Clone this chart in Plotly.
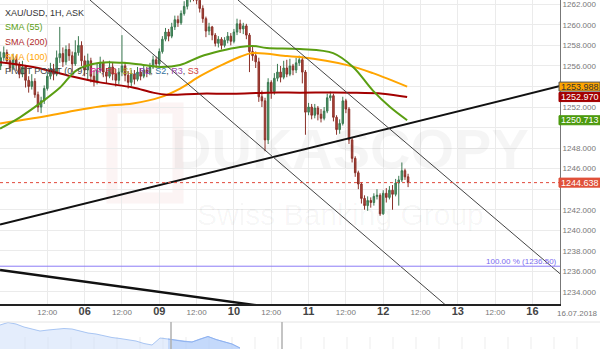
import plotly.graph_objects as go

W, H = 600, 349
FONT = "Liberation Sans, Arial, sans-serif"

# ---------------- data ----------------
hours = list(range(-3, 129))
first_open = 1256.0
close = [
    1256.8, 1257.3, 1256.5, 1255.8, 1256.6, 1256.1, 1255.2, 1255.9, 1254.6, 1254.0, 1254.5, 1253.2,
    1252.0, 1252.6, 1253.8, 1255.0, 1255.7, 1255.2, 1256.8, 1257.2, 1256.4, 1257.6, 1257.0, 1256.2,
    1257.3, 1258.0, 1256.5, 1255.6, 1256.5, 1255.0, 1254.5, 1255.6, 1256.3, 1255.4, 1255.0, 1255.9,
    1255.2, 1254.6, 1255.4, 1256.0, 1255.1, 1254.4, 1255.2, 1254.7, 1255.4, 1255.0, 1255.6, 1255.3,
    1255.9, 1256.6, 1256.2, 1257.4, 1258.6, 1259.3, 1258.9, 1259.8, 1260.5, 1260.2, 1261.1, 1261.8,
    1262.6, 1263.0, 1262.8, 1262.4, 1261.6, 1260.6, 1259.4, 1259.8, 1259.0, 1258.2, 1258.6, 1258.0,
    1258.5, 1258.9, 1258.4, 1259.3, 1260.1, 1259.6, 1259.9, 1259.0, 1257.4, 1257.0, 1256.4, 1253.0,
    1252.6, 1248.8, 1254.4, 1253.5, 1254.8, 1255.4, 1254.9, 1255.8, 1255.2, 1256.0, 1255.6, 1256.3,
    1256.6, 1255.4, 1251.5, 1252.0, 1251.2, 1251.9, 1251.3, 1250.9, 1251.6, 1252.9, 1253.1, 1251.0,
    1249.8, 1250.4, 1252.6, 1251.8, 1248.8, 1247.0, 1245.6, 1244.5, 1243.1, 1242.4, 1242.9, 1242.7,
    1243.3, 1243.4, 1241.6, 1243.6, 1243.2, 1243.9, 1243.5, 1244.6, 1244.9, 1245.8, 1245.2, 1244.638,
]
high = [
    1257.4, 1257.9, 1257.6, 1256.9, 1257.2, 1257.0, 1256.4, 1256.5, 1256.1, 1255.0, 1255.2, 1254.8,
    1253.5, 1253.0, 1254.1, 1255.4, 1256.3, 1256.2, 1257.5, 1259.8, 1257.8, 1258.0, 1258.2, 1257.4,
    1258.5, 1258.9, 1258.4, 1257.0, 1257.2, 1256.8, 1255.6, 1256.2, 1256.9, 1256.6, 1255.8, 1256.5,
    1256.3, 1255.7, 1255.8, 1259.0, 1256.4, 1255.5, 1255.6, 1255.6, 1255.9, 1255.8, 1256.0, 1255.9,
    1256.3, 1257.0, 1256.9, 1257.7, 1258.9, 1259.7, 1259.6, 1260.2, 1260.9, 1260.9, 1261.4, 1262.3,
    1263.2, 1263.5, 1263.6, 1263.2, 1262.6, 1261.9, 1260.8, 1260.2, 1259.9, 1259.2, 1258.9, 1258.8,
    1258.8, 1259.3, 1259.2, 1259.6, 1260.6, 1260.5, 1260.2, 1260.1, 1259.2, 1257.9, 1257.4, 1256.8,
    1253.6, 1252.9, 1254.8, 1254.6, 1255.3, 1256.2, 1256.0, 1256.5, 1256.6, 1256.7, 1256.2, 1256.8,
    1257.0, 1256.9, 1255.6, 1252.4, 1252.3, 1252.3, 1252.1, 1251.8, 1252.0, 1253.3, 1253.5, 1253.3,
    1251.2, 1250.8, 1253.0, 1252.8, 1252.0, 1249.0, 1247.2, 1245.8, 1244.7, 1243.4, 1243.3, 1243.2,
    1243.6, 1244.0, 1243.6, 1243.9, 1244.1, 1244.3, 1244.4, 1245.0, 1245.3, 1246.6, 1246.0, 1245.5,
]
low = [
    1255.6, 1256.5, 1256.2, 1255.4, 1255.6, 1255.5, 1254.8, 1254.9, 1253.9, 1253.4, 1253.7, 1252.9,
    1251.5, 1251.4, 1252.3, 1253.6, 1254.7, 1254.6, 1255.0, 1256.3, 1255.9, 1256.1, 1256.5, 1255.4,
    1256.0, 1257.0, 1256.0, 1255.0, 1254.6, 1254.4, 1254.0, 1254.2, 1255.3, 1254.9, 1254.3, 1254.8,
    1254.6, 1254.0, 1254.2, 1255.0, 1254.5, 1253.8, 1254.0, 1254.2, 1254.5, 1254.6, 1254.8, 1254.9,
    1255.1, 1255.7, 1255.8, 1256.0, 1257.2, 1258.4, 1258.4, 1258.7, 1259.5, 1259.8, 1260.0, 1260.9,
    1261.5, 1262.2, 1262.3, 1262.0, 1261.2, 1260.2, 1258.8, 1259.0, 1258.5, 1257.9, 1257.8, 1257.6,
    1257.8, 1258.2, 1258.0, 1258.2, 1259.0, 1259.2, 1259.1, 1258.6, 1255.4, 1256.5, 1255.8, 1252.5,
    1252.0, 1247.7, 1248.4, 1252.8, 1253.2, 1254.5, 1254.4, 1254.7, 1254.9, 1255.0, 1255.1, 1255.3,
    1256.0, 1254.3, 1249.3, 1251.2, 1250.8, 1250.9, 1250.7, 1250.5, 1250.7, 1251.4, 1252.6, 1250.6,
    1249.3, 1249.4, 1250.2, 1251.4, 1248.4, 1246.6, 1245.2, 1244.0, 1242.6, 1242.0, 1241.9, 1242.2,
    1242.4, 1243.0, 1241.4, 1241.5, 1242.7, 1243.0, 1242.0, 1243.3, 1242.4, 1244.7, 1244.9, 1244.2,
]
open_ = [first_open] + close[:-1]

sma55_h = [-3.2, 3.2, 9.6, 16.1, 21.5, 28.9, 36.3, 42.8, 48.2, 54.7, 61.1, 67.5, 74.0, 78.1, 82.6, 93.2, 103.9, 110.3, 116.7, 122.2, 127.7]
sma55_v = [1249.9, 1251.0, 1252.35, 1253.9, 1255.6, 1256.3, 1256.3, 1256.1, 1255.9, 1256.1, 1256.9, 1257.45, 1257.85, 1257.95, 1257.75, 1257.65, 1257.25, 1255.9, 1253.6, 1252.0, 1250.713]

sma100_h = [-3.2, 7.4, 18.3, 28.9, 39.5, 48.2, 54.7, 61.1, 67.5, 74.0, 78.1, 89.1, 93.2, 108.4, 116.7, 127.7]
sma100_v = [1250.4, 1250.9, 1251.5, 1252.06, 1252.35, 1252.94, 1253.8, 1255.0, 1256.0, 1256.9, 1257.25, 1256.96, 1256.86, 1256.08, 1255.3, 1253.988]

sma200_h = [-3.2, 7.4, 18.3, 28.9, 39.5, 46.0, 50.5, 61.1, 71.7, 82.6, 93.2, 109.3, 119.9, 127.7]
sma200_v = [1256.37, 1255.9, 1255.1, 1254.4, 1253.9, 1253.4, 1253.2, 1253.3, 1253.3, 1253.4, 1253.4, 1253.4, 1253.3, 1252.970]

support_h = [-3.2, 176.85]
support_v = [1240.57, 1254.04]
lower_h = [-3.2, 176.85]
lower_v = [1236.13, 1228.64]
chan_up_h = [73.3, 176.85]
chan_up_v = [1262.42, 1235.77]
chan_lo_h = [25.7, 176.85]
chan_lo_v = [1262.42, 1223.17]

fib_level = 1236.5
last_price = 1244.638

tick_hours = [12, 24, 36, 48, 60, 72, 84, 96, 108, 120, 132, 144, 156, 168]
tick_labels = ["12:00", "06", "12:00", "09", "12:00", "10", "12:00", "11", "12:00", "12", "12:00", "13", "12:00", "16"]

price_ticks = [1234, 1236, 1238, 1240, 1242, 1244, 1246, 1248, 1250, 1252, 1254, 1256, 1258, 1260, 1262]
hidden_price_ticks = [1244, 1250, 1254]   # covered by the value boxes in the reference

nav_close = [1261.0, 1263.5, 1262.0, 1259.0, 1257.0, 1255.0, 1256.0, 1257.0, 1257.5, 1257.0, 1255.0,
             1253.0, 1252.0, 1250.0, 1248.5, 1247.5, 1246.5, 1245.0, 1242.5, 1241.0, 1248.0, 1247.0,
             1245.5, 1244.5, 1244.0, 1247.0, 1249.5, 1246.5, 1244.5, 1242.0, 1238.0]

# ---------------- layout helpers ----------------
X_RANGE = [-3.215, 176.85]
Y_RANGE = [1232.82, 1262.42]
PLOT_R = 560 / W
Y_DOM0 = 1 - 304 / H


def py(px):
    return 1 - px / H


fig = go.Figure()

# navigator
nav_x = [i * 8 for i in range(len(nav_close))]
fig.add_trace(go.Scatter(x=nav_x, y=nav_close, xaxis="x2", yaxis="y2", mode="lines",
                         line=dict(color="rgba(150,185,240,0.8)", width=1),
                         fill="tozeroy", fillcolor="rgba(205,222,250,0.55)", hoverinfo="skip"))
sel_x = [x for x in nav_x if x >= 168]
sel_y = [v for x, v in zip(nav_x, nav_close) if x >= 168]
fig.add_trace(go.Scatter(x=sel_x, y=sel_y, xaxis="x2", yaxis="y2", mode="lines",
                         line=dict(color="rgba(140,175,240,0.9)", width=1),
                         fill="tozeroy", fillcolor="rgba(170,200,250,0.55)", hoverinfo="skip"))

# moving averages
fig.add_trace(go.Scatter(x=sma100_h, y=sma100_v, mode="lines", line=dict(color="#ffa500", width=2, shape="spline"), hoverinfo="skip"))
fig.add_trace(go.Scatter(x=sma200_h, y=sma200_v, mode="lines", line=dict(color="#a30000", width=2, shape="spline"), hoverinfo="skip"))
fig.add_trace(go.Scatter(x=sma55_h, y=sma55_v, mode="lines", line=dict(color="#5a9e12", width=2, shape="spline"), hoverinfo="skip"))

# candles
fig.add_trace(go.Candlestick(
    x=hours, open=open_, high=high, low=low, close=close,
    increasing=dict(fillcolor="#4f9466", line=dict(color="#3b7a52", width=1)),
    decreasing=dict(fillcolor="#b2463a", line=dict(color="#8a3028", width=1)),
    whiskerwidth=0, hoverinfo="skip"))

# trend lines
fig.add_trace(go.Scatter(x=support_h, y=support_v, mode="lines", line=dict(color="#111", width=2), hoverinfo="skip"))
fig.add_trace(go.Scatter(x=lower_h, y=lower_v, mode="lines", line=dict(color="#111", width=2.5), hoverinfo="skip"))
fig.add_trace(go.Scatter(x=chan_up_h, y=chan_up_v, mode="lines", line=dict(color="#444", width=1), hoverinfo="skip"))
fig.add_trace(go.Scatter(x=chan_lo_h, y=chan_lo_v, mode="lines", line=dict(color="#444", width=1), hoverinfo="skip"))
fig.add_trace(go.Scatter(x=X_RANGE, y=[fib_level, fib_level], mode="lines", line=dict(color="#8b7cf6", width=1), hoverinfo="skip"))
fig.add_trace(go.Scatter(x=X_RANGE, y=[last_price, last_price], mode="lines", line=dict(color="#e0473a", width=1, dash="dot"), hoverinfo="skip"))

shapes = []
annotations = []

# watermark
shapes.append(dict(type="rect", xref="paper", yref="paper", x0=112 / W, x1=178 / W, y0=py(198), y1=py(108),
                   line=dict(color="rgba(225,150,150,0.10)", width=11), fillcolor="rgba(0,0,0,0)", layer="below"))
annotations.append(dict(xref="paper", yref="paper", x=350 / W, y=py(148), text="<b>DUKASCOPY</b>", showarrow=False,
                        font=dict(family=FONT, size=56, color="rgba(0,0,0,0.04)")))
annotations.append(dict(xref="paper", yref="paper", x=340 / W, y=py(214), text="Swiss Banking Group", showarrow=False,
                        font=dict(family=FONT, size=30, color="rgba(0,0,0,0.04)")))

# legend texts
legend_rows = [
    ("XAU/USD, 1H, ASK", "#333333", 12.5),
    ("SMA (55)", "#5a9e12", 27),
    ("SMA (200)", "#b02a2a", 42),
    ("SMA (100)", "#ffa500", 56.5),
    ("PIVOT POINT (0, 9): <span style='color:#e0209a'>PP</span>, <span style='color:#d03a3a'>R1</span>, "
     "<span style='color:#a3a31c'>S1</span>, <span style='color:#9040c0'>R2</span>, "
     "<span style='color:#2f72a0'>S2</span>, <span style='color:#9a4aa8'>R3</span>, "
     "<span style='color:#d04040'>S3</span>", "#444444", 71),
]
for txt, col, ypx in legend_rows:
    annotations.append(dict(xref="paper", yref="paper", x=3 / W, y=py(ypx), xanchor="left", yanchor="middle",
                            text=txt, showarrow=False, font=dict(family=FONT, size=9, color=col)))

# fib label
annotations.append(dict(xref="paper", yref="y", x=PLOT_R - 1 / W, y=fib_level, xanchor="right", yanchor="bottom",
                        text="100.00 % (1236.50)", showarrow=False, yshift=-2,
                        font=dict(family=FONT, size=8, color="#7b6cf0")))

# price boxes on the axis
boxes = [
    (sma100_v[-1], "#ffa500", "#333333"),
    (sma200_v[-1], "#a30000", "#ffffff"),
    (sma55_v[-1], "#4c9a0e", "#ffffff"),
    (last_price, "#e0513a", "#ffffff"),
]
for val, bg, fc in boxes:
    shapes.append(dict(type="rect", xref="paper", yref="y", x0=559 / W, x1=600 / W, y0=val - 0.44, y1=val + 0.44,
                       fillcolor=bg, line=dict(color="#555" if bg == "#ffa500" else bg, width=1), layer="above"))
    annotations.append(dict(xref="paper", yref="y", x=579.5 / W, y=val, xanchor="center", yanchor="middle",
                            text=f"{val:.3f}", showarrow=False, font=dict(family=FONT, size=9, color=fc)))

# date at the right of x axis
annotations.append(dict(xref="paper", yref="paper", x=577 / W, y=py(313), text="16.07.2018", showarrow=False,
                        xanchor="center", yanchor="middle", font=dict(family=FONT, size=8, color="#777")))

# navigator decorations
shapes.append(dict(type="line", xref="paper", yref="paper", x0=0, x1=1, y0=py(322), y1=py(322),
                   line=dict(color="#e4e4e4", width=1)))
for xp in [171, 282]:
    shapes.append(dict(type="line", xref="paper", yref="paper", x0=xp / W, x1=xp / W, y0=0, y1=py(322),
                       line=dict(color="#b0b0b0", width=1.5)))
for k in range(1, 26):
    xp = 23 * k + 2
    shapes.append(dict(type="line", xref="paper", yref="paper", x0=xp / W, x1=xp / W, y0=0, y1=py(337),
                       line=dict(color="rgba(0,0,0,0.07)", width=1), layer="below"))

ticktext = []
for t in tick_labels:
    if ":" in t:
        ticktext.append(t)
    else:
        ticktext.append(f"<b><span style='font-size:11px;color:#444'>{t}</span></b>")

price_ticktext = ["" if p in hidden_price_ticks else f"{p:.3f}" for p in price_ticks]

fig.update_layout(
    width=W, height=H, margin=dict(l=0, r=0, t=0, b=0),
    paper_bgcolor="white", plot_bgcolor="white", showlegend=False, hovermode=False,
    font=dict(family=FONT),
    xaxis=dict(domain=[0, PLOT_R], range=X_RANGE, anchor="y", showgrid=True, gridcolor="#ebebeb", gridwidth=1,
               tickmode="array", tickvals=tick_hours, ticktext=ticktext, ticks="",
               tickfont=dict(size=8, color="#777", family=FONT),
               showline=True, linecolor="#222", linewidth=1.5, zeroline=False,
               rangeslider=dict(visible=False), fixedrange=True),
    yaxis=dict(domain=[Y_DOM0, 1], range=Y_RANGE, side="right", anchor="x", showgrid=True, gridcolor="#ebebeb",
               tickmode="array", tickvals=price_ticks, ticktext=price_ticktext, ticks="",
               tickfont=dict(size=8, color="#777", family=FONT),
               showline=True, linecolor="#777", linewidth=1, zeroline=False, fixedrange=True),
    xaxis2=dict(domain=[0, 1], range=[0, 600], anchor="y2", visible=False, fixedrange=True),
    yaxis2=dict(domain=[0, 29 / H], range=[1237, 1266], anchor="x2", visible=False, fixedrange=True),
    shapes=shapes, annotations=annotations,
)

fig.write_html("out.html")
